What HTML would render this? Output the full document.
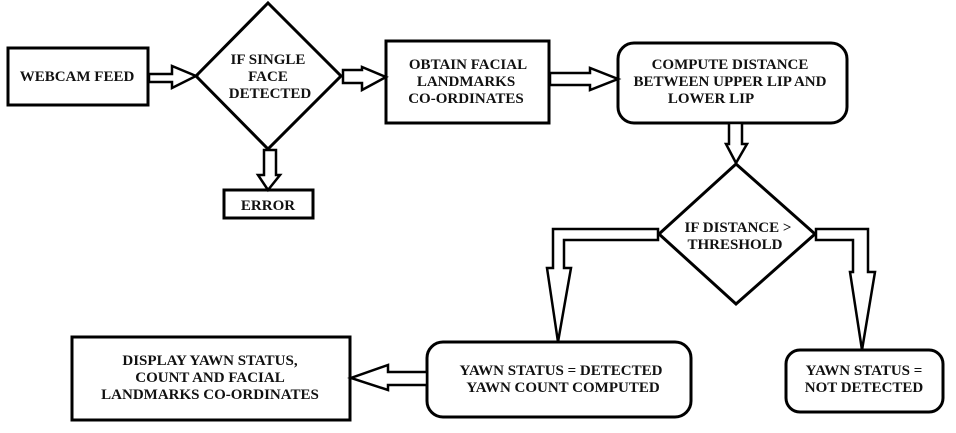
<!DOCTYPE html>
<html><head><meta charset="utf-8"><style>
html,body{margin:0;padding:0;background:#fff;}
svg{display:block;}
text{font-family:"Liberation Serif",serif;font-weight:bold;font-size:15px;fill:#111;text-anchor:middle;}
</style></head><body>
<svg width="956" height="433" viewBox="0 0 956 433" xmlns="http://www.w3.org/2000/svg">
<g fill="#fff" stroke="#000" stroke-width="3" stroke-linejoin="miter">
<rect x="8" y="48" width="140" height="57"/>
<polygon points="268,3 341,76 268,149 196,76"/>
<rect x="224" y="190" width="89" height="28"/>
<rect x="386" y="41" width="163" height="82"/>
<rect x="618" y="43" width="229" height="80" rx="16"/>
<polygon points="736,164 815,234 736,304 659,234"/>
<rect x="72" y="337" width="278" height="83"/>
<rect x="427" y="342" width="264" height="75" rx="16"/>
<rect x="786" y="350" width="157" height="62" rx="14"/>
</g>
<g fill="#fff" stroke="#000" stroke-width="2.5" stroke-linejoin="miter">
<polygon points="149,74 172,74 172,66 196,76 172,88 172,82 149,82"/>
<polygon points="343,70 362,70 362,67 386,77 362,90 362,83 343,83"/>
<polygon points="550,73 590,73 590,68 618,79 590,90 590,85 550,85"/>
<polygon points="264,150 276,150 276,175 280,175 268,190 258,175 264,175"/>
<polygon points="729,123 742,123 742,144 747,144 736,163 726,144 729,144"/>
<polygon points="427,372 388,372 388,365 351,378 388,390 388,385 427,385"/>
<polygon points="658,229 553,229 553,268 547,268 558,342 571,268 564,268 564,240 658,240"/>
<polygon points="816,229 868,229 868,272 875,272 862,350 850,272 853,272 853,240 816,240"/>
</g>
<text x="77" y="81">WEBCAM FEED</text>
<text x="268" y="64">IF SINGLE</text>
<text x="268" y="81">FACE</text>
<text x="270" y="98">DETECTED</text>
<text x="268" y="210">ERROR</text>
<text x="468" y="69">OBTAIN FACIAL</text>
<text x="466" y="86">LANDMARKS</text>
<text x="466" y="103">CO-ORDINATES</text>
<text x="730" y="69">COMPUTE DISTANCE</text>
<text x="730" y="86">BETWEEN UPPER LIP AND</text>
<text x="711" y="103">LOWER LIP</text>
<text x="738" y="232">IF DISTANCE &gt;</text>
<text x="735" y="249">THRESHOLD</text>
<text x="210" y="365">DISPLAY YAWN STATUS,</text>
<text x="210" y="382">COUNT AND FACIAL</text>
<text x="210" y="399">LANDMARKS CO-ORDINATES</text>
<text x="561" y="375">YAWN STATUS = DETECTED</text>
<text x="563" y="392">YAWN COUNT COMPUTED</text>
<text x="864" y="375">YAWN STATUS =</text>
<text x="864" y="392">NOT DETECTED</text>
</svg>
</body></html>
